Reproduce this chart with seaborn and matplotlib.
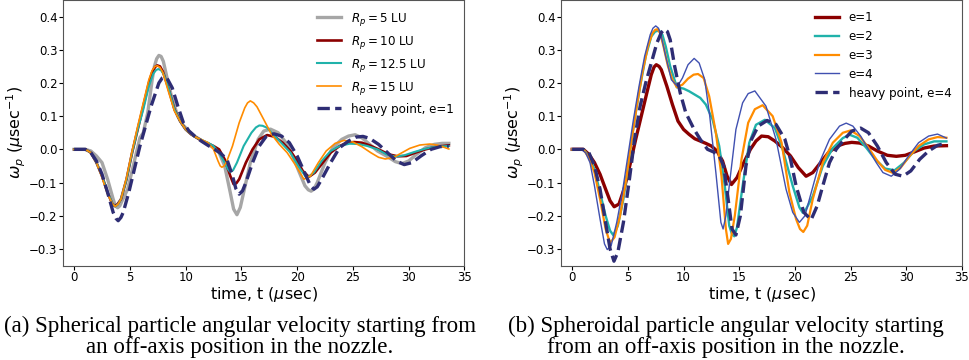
import numpy as np
import matplotlib
matplotlib.use('Agg')
import matplotlib.pyplot as plt
import seaborn as sns

# ================= data =================
# (a) spherical particle, off-axis start
t_r5 = [0, 1.0, 1.5, 2.0, 2.5, 3.0, 3.5, 3.7, 3.9, 4.1, 4.3, 4.8, 5.3, 5.9, 6.2, 6.6, 7.0, 7.2, 7.4, 7.6,
        7.8, 8.0, 8.3, 8.8, 9.3, 9.8, 10.3, 10.8, 11.5, 12.0, 12.5, 13.0, 13.5, 14.0, 14.3, 14.6, 14.9,
        15.2, 15.8, 16.5, 17.0, 17.6, 18.3, 19.0, 19.6, 20.2, 20.7, 21.0, 21.25, 21.5, 21.8, 22.5, 23.2,
        24.0, 24.6, 25.2, 25.8, 26.5, 27.2, 28.0, 28.8, 29.4, 30.0, 30.7, 31.5, 32.3, 33.0, 33.6]
w_r5 = [0, 0, -0.005, -0.02, -0.04, -0.09, -0.15, -0.17, -0.176, -0.17, -0.155, -0.12, -0.05, 0.035,
        0.05, 0.11, 0.21, 0.25, 0.273, 0.283, 0.28, 0.265, 0.22, 0.15, 0.10, 0.072, 0.055, 0.04, 0.025,
        0.015, 0.005, -0.01, -0.05, -0.13, -0.18, -0.197, -0.175, -0.13, -0.04, 0.03, 0.055, 0.061, 0.05,
        0.02, -0.02, -0.07, -0.11, -0.122, -0.126, -0.12, -0.10, -0.04, 0.005, 0.03, 0.04, 0.044, 0.035,
        0.015, -0.005, -0.02, -0.037, -0.043, -0.035, -0.015, 0.005, 0.015, 0.018, 0.018]

t_r10 = [0, 1.0, 1.5, 2.0, 2.5, 3.0, 3.4, 3.65, 3.9, 4.2, 4.7, 5.2, 5.7, 6.2, 6.7, 7.0, 7.25, 7.45, 7.7,
         7.95, 8.4, 9.0, 9.5, 10.0, 10.5, 11.0, 11.5, 12.0, 12.5, 13.0, 13.5, 14.0, 14.3, 14.55, 14.8,
         15.4, 16.0, 16.6, 17.3, 18.0, 18.7, 19.4, 20.0, 20.5, 21.05, 21.6, 22.3, 23.0, 23.8, 24.5, 25.1,
         25.8, 26.5, 27.3, 28.2, 29.0, 29.8, 30.6, 31.5, 32.5, 33.6]
w_r10 = [0, 0, -0.01, -0.04, -0.08, -0.13, -0.163, -0.171, -0.165, -0.15, -0.09, -0.01, 0.06, 0.13, 0.20,
         0.233, 0.248, 0.253, 0.25, 0.235, 0.19, 0.12, 0.085, 0.06, 0.045, 0.035, 0.025, 0.018, 0.01, 0.0,
         -0.03, -0.08, -0.105, -0.102, -0.09, -0.04, 0.0, 0.03, 0.043, 0.038, 0.02, -0.005, -0.035, -0.065,
         -0.083, -0.07, -0.04, -0.01, 0.01, 0.02, 0.022, 0.02, 0.012, 0.0, -0.015, -0.021, -0.02, -0.01,
         0.0, 0.008, 0.012]

t_r125 = [0, 1.0, 1.5, 2.0, 2.5, 3.0, 3.45, 3.7, 3.95, 4.2, 4.7, 5.2, 5.7, 6.2, 6.7, 7.1, 7.35, 7.55,
          7.8, 8.05, 8.5, 9.0, 9.5, 10.0, 10.5, 11.0, 11.5, 12.0, 12.5, 13.0, 13.5, 13.8, 14.0, 14.25,
          14.6, 15.2, 15.9, 16.3, 16.6, 16.9, 17.3, 18.0, 18.7, 19.4, 20.1, 20.85, 21.5, 22.2, 23.0, 23.8,
          24.7, 25.5, 26.3, 27.2, 28.0, 28.8, 29.6, 30.5, 31.5, 32.5, 33.6]
w_r125 = [0, 0, -0.01, -0.04, -0.08, -0.13, -0.165, -0.172, -0.165, -0.15, -0.09, -0.01, 0.06, 0.12,
          0.19, 0.228, 0.239, 0.242, 0.238, 0.225, 0.18, 0.12, 0.085, 0.06, 0.045, 0.035, 0.027, 0.02,
          0.01, -0.01, -0.04, -0.06, -0.068, -0.063, -0.04, 0.01, 0.05, 0.066, 0.072, 0.071, 0.065, 0.04,
          0.015, -0.01, -0.05, -0.087, -0.07, -0.035, -0.005, 0.01, 0.017, 0.016, 0.01, 0.0, -0.015,
          -0.022, -0.018, -0.008, 0.002, 0.008, 0.01]

t_r15 = [0, 1.0, 1.5, 2.0, 2.5, 3.0, 3.45, 3.7, 3.95, 4.2, 4.7, 5.2, 5.7, 6.2, 6.7, 7.0, 7.25, 7.45,
         7.7, 7.95, 8.4, 9.0, 9.5, 10.0, 10.5, 11.0, 11.5, 12.0, 12.5, 12.9, 13.1, 13.25, 13.45, 13.7,
         14.2, 14.8, 15.3, 15.55, 15.8, 16.1, 16.4, 17.0, 17.7, 18.4, 19.1, 19.8, 20.6, 21.2, 21.9, 22.6,
         23.4, 24.2, 25.0, 25.8, 26.6, 27.3, 27.9, 28.6, 29.3, 30.1, 31.0, 31.9, 32.7, 33.6]
w_r15 = [0, 0, -0.01, -0.04, -0.085, -0.135, -0.165, -0.172, -0.165, -0.15, -0.085, -0.005, 0.07, 0.14,
         0.21, 0.238, 0.25, 0.252, 0.247, 0.232, 0.18, 0.115, 0.085, 0.06, 0.045, 0.035, 0.028, 0.02,
         0.0, -0.035, -0.05, -0.054, -0.05, -0.035, 0.01, 0.08, 0.125, 0.14, 0.146, 0.14, 0.128, 0.09,
         0.045, 0.015, -0.01, -0.045, -0.09, -0.08, -0.04, -0.005, 0.018, 0.027, 0.022, 0.008, -0.01,
         -0.024, -0.029, -0.025, -0.012, 0.003, 0.013, 0.016, 0.012, 0.001]

t_hp1 = [0, 1.0, 1.5, 2.0, 2.5, 3.0, 3.5, 3.75, 3.95, 4.2, 4.4, 4.9, 5.4, 5.9, 6.4, 6.9, 7.3, 7.6, 7.9,
         8.1, 8.4, 8.8, 9.3, 9.8, 10.3, 10.8, 11.4, 12.0, 12.6, 13.1, 13.7, 14.2, 14.5, 14.8, 15.1, 15.4,
         16.0, 16.6, 17.2, 17.9, 18.6, 19.3, 20.0, 20.8, 21.2, 21.5, 21.8, 22.2, 23.0, 23.8, 24.6, 25.3,
         25.9, 26.5, 27.3, 28.1, 28.9, 29.6, 30.3, 31.1, 32.0, 32.8, 33.6]
w_hp1 = [0, 0, -0.01, -0.035, -0.075, -0.13, -0.19, -0.208, -0.215, -0.205, -0.19, -0.13, -0.06, 0.01,
         0.07, 0.13, 0.17, 0.2, 0.215, 0.218, 0.21, 0.185, 0.13, 0.08, 0.055, 0.04, 0.025, 0.012, 0.0,
         -0.011, -0.03, -0.08, -0.118, -0.135, -0.125, -0.10, -0.04, 0.01, 0.038, 0.047, 0.04, 0.02, -0.02,
         -0.08, -0.11, -0.12, -0.113, -0.09, -0.04, 0.005, 0.025, 0.037, 0.039, 0.033, 0.015, -0.01,
         -0.035, -0.046, -0.04, -0.02, 0.0, 0.008, 0.01]

# (b) spheroidal particle, off-axis start
t_e1 = [0, 1.0, 1.5, 2.0, 2.5, 3.0, 3.4, 3.77, 4.2, 4.7, 5.2, 5.7, 6.2, 6.7, 7.1, 7.35, 7.55, 7.8, 8.0,
        8.5, 9.0, 9.5, 10.0, 10.5, 11.0, 11.5, 12.0, 12.5, 13.0, 13.5, 13.9, 14.3, 14.8, 15.4, 16.0, 16.5,
        17.0, 17.6, 18.2, 18.9, 19.6, 20.3, 21.0, 21.6, 22.3, 23.0, 23.8, 24.5, 25.1, 25.8, 26.6, 27.4,
        28.3, 29.1, 29.9, 30.7, 31.6, 32.5, 33.6]
w_e1 = [0, 0, -0.015, -0.04, -0.075, -0.12, -0.155, -0.173, -0.165, -0.115, -0.045, 0.03, 0.10, 0.17,
        0.225, 0.248, 0.255, 0.25, 0.24, 0.19, 0.135, 0.085, 0.06, 0.045, 0.032, 0.025, 0.018, 0.01,
        -0.005, -0.035, -0.08, -0.106, -0.085, -0.04, 0.0, 0.025, 0.04, 0.038, 0.025, 0.005, -0.02,
        -0.055, -0.081, -0.07, -0.04, -0.01, 0.01, 0.018, 0.021, 0.019, 0.01, -0.005, -0.018, -0.021,
        -0.018, -0.008, 0.004, 0.01, 0.011]

t_e2 = [0, 1.0, 1.5, 2.0, 2.5, 3.0, 3.4, 3.7, 4.1, 4.6, 5.1, 5.6, 6.1, 6.6, 7.1, 7.45, 7.8, 8.1, 8.4,
        8.8, 9.4, 10.0, 10.5, 11.0, 11.5, 12.0, 12.6, 13.2, 13.7, 14.1, 14.35, 14.55, 14.8, 15.3, 15.9,
        16.5, 17.3, 18.2, 18.9, 19.8, 20.4, 20.7, 21.0, 21.6, 22.5, 23.4, 24.3, 24.9, 25.6, 26.4, 27.2,
        28.1, 28.95, 29.8, 30.7, 31.6, 32.5, 33.6]
w_e2 = [0, 0, -0.02, -0.06, -0.13, -0.20, -0.245, -0.259, -0.23, -0.15, -0.03, 0.09, 0.19, 0.28, 0.34,
        0.355, 0.358, 0.345, 0.31, 0.25, 0.187, 0.183, 0.175, 0.165, 0.155, 0.135, 0.09, 0.01, -0.11,
        -0.23, -0.256, -0.262, -0.235, -0.11, 0.02, 0.074, 0.089, 0.064, 0.0, -0.11, -0.175, -0.191,
        -0.18, -0.141, -0.05, 0.004, 0.034, 0.044, 0.035, 0.005, -0.03, -0.058, -0.063, -0.04, -0.005,
        0.015, 0.024, 0.024]

t_e3 = [0, 1.0, 1.5, 2.0, 2.5, 3.0, 3.4, 3.8, 4.3, 4.8, 5.3, 5.8, 6.3, 6.8, 7.2, 7.45, 7.65, 7.9, 8.2,
        8.6, 9.0, 9.4, 9.9, 10.4, 10.9, 11.3, 11.8, 12.3, 12.9, 13.4, 13.8, 14.0, 14.25, 14.6, 15.2, 15.8,
        16.4, 17.1, 18.0, 18.8, 19.5, 20.1, 20.45, 20.75, 21.1, 21.6, 22.5, 23.4, 24.3, 25.0, 25.8, 26.6,
        27.4, 28.1, 28.8, 29.5, 30.3, 31.1, 32.0, 32.8, 33.6]
w_e3 = [0, 0, -0.025, -0.07, -0.15, -0.24, -0.282, -0.265, -0.20, -0.10, 0.02, 0.13, 0.23, 0.31, 0.35,
        0.36, 0.362, 0.35, 0.31, 0.25, 0.21, 0.187, 0.195, 0.213, 0.225, 0.227, 0.215, 0.16, 0.05, -0.08,
        -0.24, -0.285, -0.27, -0.20, -0.03, 0.08, 0.121, 0.133, 0.10, 0.02, -0.13, -0.21, -0.24, -0.249,
        -0.23, -0.15, -0.04, 0.02, 0.05, 0.057, 0.04, 0.005, -0.035, -0.062, -0.071, -0.055, -0.02, 0.01,
        0.03, 0.037, 0.035]

t_e4 = [0, 0.8, 1.2, 1.6, 2.0, 2.5, 2.9, 3.15, 3.5, 4.0, 4.5, 5.0, 5.5, 6.0, 6.5, 7.0, 7.25, 7.5, 7.75,
        8.0, 8.4, 8.9, 9.45, 9.9, 10.4, 10.95, 11.4, 11.9, 12.35, 12.9, 13.35, 13.55, 13.8, 14.1, 14.7,
        15.3, 15.8, 16.4, 17.4, 18.3, 19.2, 19.8, 20.4, 20.9, 21.3, 22.2, 23.1, 24.0, 24.6, 25.2, 25.9,
        26.6, 27.3, 27.9, 28.65, 29.4, 30.2, 31.1, 32.0, 32.8, 33.6]
w_e4 = [0, 0, -0.01, -0.04, -0.11, -0.21, -0.285, -0.302, -0.29, -0.22, -0.13, -0.02, 0.09, 0.19, 0.28,
        0.345, 0.365, 0.372, 0.365, 0.34, 0.28, 0.21, 0.19, 0.215, 0.255, 0.274, 0.26, 0.21, 0.10, -0.07,
        -0.22, -0.24, -0.2, -0.11, 0.06, 0.14, 0.168, 0.176, 0.13, 0.03, -0.12, -0.19, -0.22, -0.20,
        -0.15, -0.04, 0.03, 0.07, 0.079, 0.07, 0.04, 0.0, -0.04, -0.07, -0.081, -0.06, -0.02, 0.02, 0.04,
        0.046, 0.034]

t_hp4 = [0, 1.0, 1.5, 2.0, 2.5, 3.0, 3.4, 3.75, 4.1, 4.6, 5.1, 5.6, 6.1, 6.6, 7.1, 7.6, 8.0, 8.3, 8.55,
         8.8, 9.2, 9.7, 10.2, 10.95, 11.5, 12.15, 12.7, 13.2, 13.6, 14.0, 14.35, 14.7, 15.1, 15.6, 16.1,
         16.7, 17.5, 18.3, 19.1, 19.6, 20.1, 20.8, 21.45, 22.0, 22.5, 23.1, 23.7, 24.3, 25.1, 25.9, 26.6,
         27.4, 28.2, 29.0, 29.7, 30.4, 31.2, 32.0, 32.8, 33.6]
w_hp4 = [0, 0, -0.01, -0.05, -0.12, -0.22, -0.30, -0.337, -0.31, -0.22, -0.10, 0.03, 0.13, 0.20, 0.26,
         0.32, 0.352, 0.362, 0.355, 0.33, 0.25, 0.17, 0.11, 0.06, 0.03, 0.0, -0.008, -0.02, -0.05, -0.15,
         -0.24, -0.258, -0.20, -0.05, 0.03, 0.07, 0.087, 0.075, 0.03, -0.03, -0.11, -0.19, -0.212, -0.17,
         -0.11, -0.04, 0.0, 0.025, 0.055, 0.064, 0.05, 0.01, -0.04, -0.075, -0.081, -0.065, -0.03, -0.005,
         0.012, 0.019]

labels_a = [r'$R_p = 5$ LU', r'$R_p = 10$ LU', r'$R_p = 12.5$ LU', r'$R_p = 15$ LU', 'heavy point, e=1']
labels_b = ['e=1', 'e=2', 'e=3', 'e=4', 'heavy point, e=4']
caption_a = ['(a) Spherical particle angular velocity starting from',
             'an off-axis position in the nozzle.']
caption_b = ['(b) Spheroidal particle angular velocity starting',
             'from an off-axis position in the nozzle.']

# ================= styles =================
navy = '#2e2d74'
style_a = [('#a6a6a6', 2.4, '-'), ('#8b0000', 1.9, '-'), ('#20b2aa', 1.5, '-'),
           ('#ff8c00', 1.2, '-'), (navy, 2.4, '--')]
style_b = [('#8b0000', 2.4, '-'), ('#20b2aa', 1.7, '-'), ('#ff8c00', 1.6, '-'),
           ('#4050b0', 1.0, '-'), (navy, 2.4, '--')]

series_a = [(t_r5, w_r5), (t_r10, w_r10), (t_r125, w_r125), (t_r15, w_r15), (t_hp1, w_hp1)]
series_b = [(t_e1, w_e1), (t_e2, w_e2), (t_e3, w_e3), (t_e4, w_e4), (t_hp4, w_hp4)]

fig = plt.figure(figsize=(9.69, 3.6), dpi=100)
ax_a = fig.add_axes([0.065, 0.2625, 0.4143, 0.7375])
ax_b = fig.add_axes([0.579, 0.2625, 0.4138, 0.7375])

for ax, series, styles, labels in [(ax_a, series_a, style_a, labels_a),
                                    (ax_b, series_b, style_b, labels_b)]:
    for (t, w), (c, lw, ls), lab in zip(series, styles, labels):
        sns.lineplot(x=t, y=w, ax=ax, color=c, linewidth=lw, linestyle=ls,
                     label=lab, sort=False, estimator=None)
    ax.set_xlim(-1, 35)
    ax.set_ylim(-0.35, 0.45)
    ax.set_xticks(np.arange(0, 36, 5))
    ax.set_yticks(np.arange(-0.3, 0.41, 0.1))
    ax.tick_params(labelsize=8.5, length=3, pad=1.0)
    ax.set_xlabel(r'time, t ($\mu$sec)', fontsize=11.5, labelpad=0.5)
    ax.set_ylabel(r'$\omega_p$ ($\mu$sec$^{-1}$)', fontsize=11.5, labelpad=1)
    ax.legend(loc='upper right', frameon=False, fontsize=8.6)
    for sp in ax.spines.values():
        sp.set_color('#555555')

# captions (serif, like the paper)
for cap, xc in [(caption_a, 240 / 969), (caption_b, 726 / 969)]:
    fig.text(xc, 1 - 332 / 360, cap[0], ha='center', va='baseline', fontsize=16.6,
             family='Liberation Serif')
    fig.text(xc, 1 - 353 / 360, cap[1], ha='center', va='baseline', fontsize=16.6,
             family='Liberation Serif')

fig.savefig('out.png', dpi=100)
